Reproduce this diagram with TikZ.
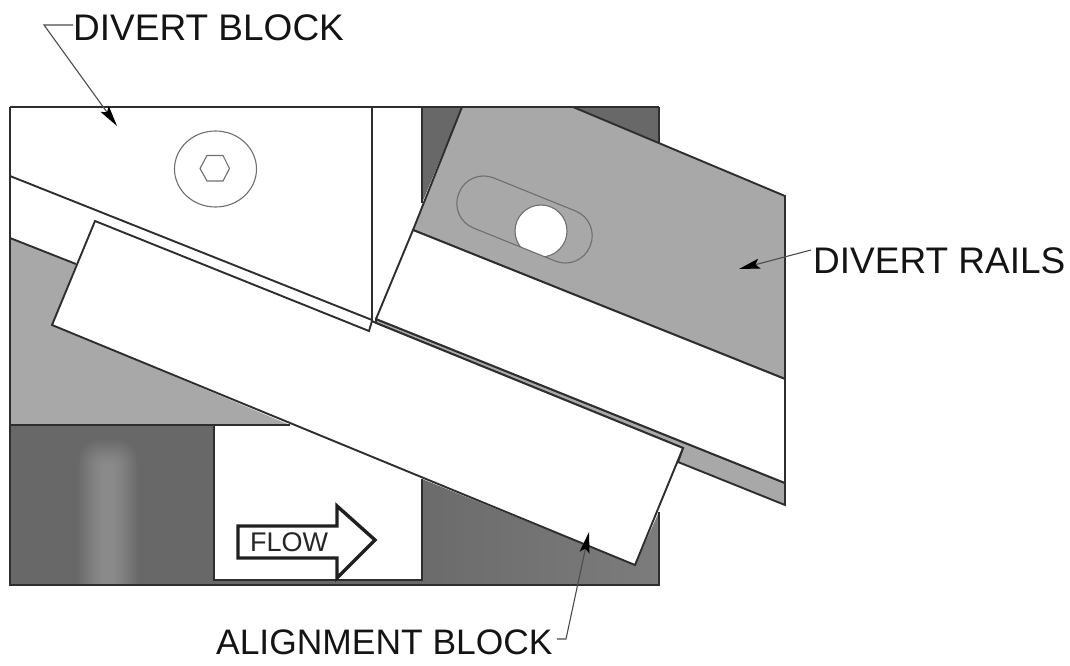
\documentclass[tikz,border=0pt]{standalone}
\usepackage{fontspec}
\setmainfont{Liberation Sans}
\usetikzlibrary{arrows.meta}
\definecolor{railgrey}{HTML}{A8A8A8}
\definecolor{basedark}{HTML}{686868}
\definecolor{basemid}{HTML}{7C7C7C}
\definecolor{inkline}{HTML}{2E2E2E}
\definecolor{thinline}{HTML}{6E6E6E}
\tikzset{
  part/.style={draw=inkline,line width=1.9pt,line join=miter},
  fine/.style={draw=thinline,line width=1.1pt},
  callout/.style={inner sep=0pt,text=black!92,font=\fontsize{37}{37}\selectfont},
  leader/.style={draw=black!70,line width=1.1pt,-{Stealth[length=21pt,width=10pt,inset=4pt,black]}},
}
\begin{document}
\begin{tikzpicture}[x=1pt,y=-1pt]
  \useasboundingbox (0,0) rectangle (1070,666);
  \fill[basedark] (10,425) rectangle (214,585);
  \begin{scope}
    \clip (10,425) rectangle (214,585);
    \foreach \w in {30,28,...,6}
      \fill[white,opacity=.024,rounded corners=\w*.7pt] (108-\w,470-\w) -- (108+\w,470-\w) -- (108+\w,610) -- (108-\w,610) -- cycle;
  \end{scope}
  \fill[basedark] (214,580) rectangle (422,585);
  \shade[left color=basedark!85!basemid,right color=basemid] (422,479) -- (635,565) -- (659,512) -- (659,585) -- (422,585) -- cycle;
  \fill[basedark] (422,107) -- (462,107) -- (422,203) -- cycle;
  \fill[basedark] (573,107) -- (659,107) -- (659,143) -- cycle;
  \fill[railgrey] (10,238) -- (76,264) -- (52,325) -- (290,425) -- (10,425) -- cycle;
  \path[part,fill=railgrey] (462,107) -- (573,107) -- (785,196) -- (785,379) -- (413,230) -- cycle;
  \path[part,fill=railgrey] (376,319) -- (785,483) -- (785,505) -- (678,462) -- (683,448) -- (376,323) -- cycle;
  \path[part,fill=white] (413,230) -- (785,379) -- (785,483) -- (376,319) -- cycle;
  \draw[part] (10,107) -- (659,107) (659,107) -- (659,143);
  \draw[part] (10,107) -- (10,585) -- (659,585) -- (659,512);
  \draw[part] (10,176) -- (372,320) -- (372,107);
  \draw[part] (10,238) -- (76,264);
  \draw[part] (10,425) -- (290,425);
  \draw[part] (214,425) -- (214,580) -- (422,580) -- (422,479);
  \draw[part] (422,107) -- (422,203);
  \path[part,fill=white] (95,221) -- (369,331) -- (372,321) -- (376,323) -- (683,448) -- (635,565) -- (52,325) -- cycle;
  \draw[fine] (215.5,169) ellipse [x radius=41,y radius=38];
  \draw[fine] (200,168.5) -- (207,155.5) -- (223,155.5) -- (229.5,168.5) -- (223,181) -- (207,181) -- cycle;
  \begin{scope}
    \clip (474,228) -- (555,261) -- (640,296) -- (640,150) -- (440,150) -- (440,215) -- cycle;
    \draw[fine,fill=white] (541,231) circle [radius=26];
  \end{scope}
  \node[fine,draw,rotate=-22,minimum width=141.5pt,minimum height=54pt,rounded corners=26.5pt,inner sep=0pt] (slot) at (524.5,219.5) {};
  \draw[inkline!70!black,line width=3.4pt,fill=white] (238,526) -- (337,526) -- (337,506) -- (375,540) -- (337,578) -- (337,558) -- (238,558) -- cycle;
  \node[inner sep=0pt,text=black!85,font=\fontsize{27}{27}\selectfont] (flow) at (289,542) {FLOW};
  \node[callout,anchor=west] (blocklabel) at (73,28) {DIVERT BLOCK};
  \node[callout,anchor=west] (railslabel) at (813,261) {DIVERT RAILS};
  \node[callout,anchor=west,font=\fontsize{35.4}{36}\selectfont] (alignlabel) at (216,642) {ALIGNMENT BLOCK};
  \coordinate (blockbend) at (44,25);
  \coordinate (blocktip) at (117,126);
  \coordinate (railsbend) at (811,250);
  \coordinate (railstip) at (739,269);
  \coordinate (alignbend) at (566,639);
  \coordinate (aligntip) at (589,532);
  \draw[leader] ([yshift=3pt]blocklabel.west) -- (blockbend) -- (blocktip);
  \draw[leader] (railsbend) -- (railstip);
  \draw[leader] ([xshift=4pt,yshift=3pt]alignlabel.east) -- (alignbend) -- (aligntip);
\end{tikzpicture}
\end{document}
